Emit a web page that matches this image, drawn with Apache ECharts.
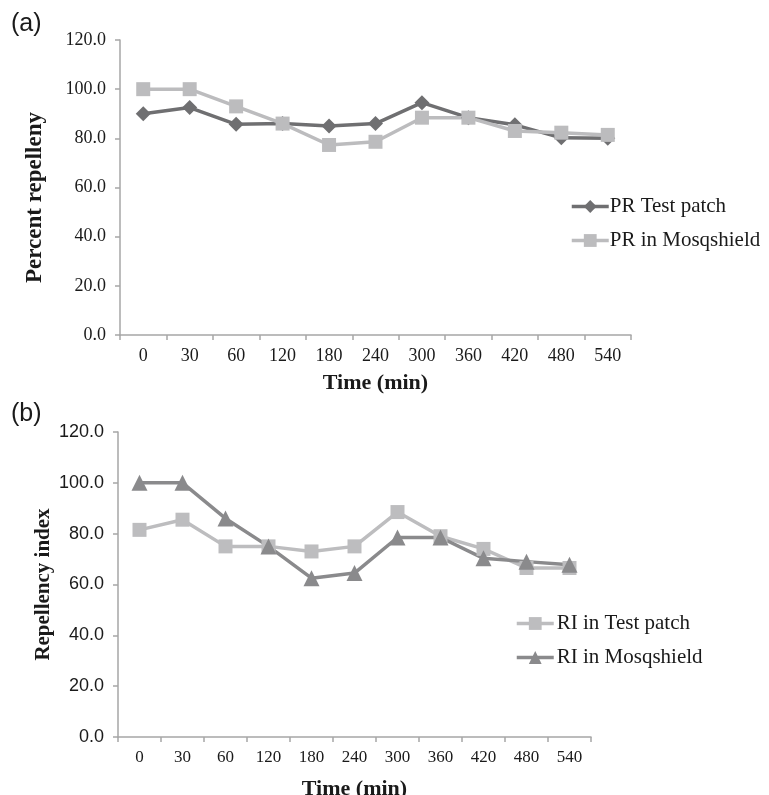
<!DOCTYPE html>
<html>
<head>
<meta charset="utf-8">
<script src="https://cdn.jsdelivr.net/npm/echarts@6/dist/echarts.min.js"></script>
<style>
html,body{margin:0;padding:0;background:#fff;}
#chart{width:769px;height:795px;}
</style>
</head>
<body>
<div id="chart"></div>
<script>
const categories = ['0','30','60','120','180','240','300','360','420','480','540'];
const prTestPatch = [90, 92.5, 85.7, 86, 85, 86, 94.5, 88.4, 85.5, 80.2, 80];
const prMosqshield = [100, 100, 93, 86, 77.3, 78.6, 88.4, 88.4, 83, 82.3, 81.4];
const riTestPatch = [81.5, 85.5, 75, 75, 73, 75, 88.5, 79, 74, 66.5, 66.5];
const riMosqshield = [100, 100, 86, 75, 62.5, 64.5, 78.5, 78.5, 70.3, 69, 67.8];

const serif = 'Liberation Serif, Times New Roman, serif';
const sans = 'Liberation Sans, Arial, sans-serif';
const axisGray = '#a6a6a6';
const txt = '#1a1a1a';

const chart = echarts.init(document.getElementById('chart'));

function xAxis(gridIndex, labelSize, nameGap) {
  return {
    type: 'category', gridIndex: gridIndex, data: categories, boundaryGap: true,
    name: 'Time (min)', nameLocation: 'middle', nameGap: nameGap, nameMoveOverlap: false,
    nameTextStyle: { fontFamily: serif, fontWeight: 'bold', fontSize: 22, color: txt },
    axisLine: { lineStyle: { color: axisGray, width: 1.5 } },
    axisTick: { show: true, length: 5, lineStyle: { color: axisGray, width: 1.5 } },
    axisLabel: { fontFamily: serif, fontSize: labelSize, color: txt, margin: 12, interval: 0 },
    splitLine: { show: false }
  };
}
function yAxis(gridIndex, name, family, labelSize, nameGap, nameSize, namePad) {
  return {
    type: 'value', gridIndex: gridIndex, min: 0, max: 120, interval: 20,
    name: name, nameLocation: 'middle', nameGap: nameGap, nameRotate: 90, nameMoveOverlap: false,
    nameTextStyle: { fontFamily: serif, fontWeight: 'bold', fontSize: nameSize, color: txt, padding: namePad },
    axisLine: { show: true, lineStyle: { color: axisGray, width: 1.5 } },
    axisTick: { show: true, length: 5, lineStyle: { color: axisGray, width: 1.5 } },
    axisLabel: { fontFamily: family, fontSize: labelSize, color: txt, margin: 14,
      formatter: v => v.toFixed(1) },
    splitLine: { show: false }
  };
}
function lineSeries(name, data, xi, color, symbol, size) {
  return {
    type: 'line', name: name, data: data, xAxisIndex: xi, yAxisIndex: xi,
    symbol: symbol, symbolSize: size, showAllSymbol: true,
    lineStyle: { color: color, width: 3.5 },
    itemStyle: { color: color },
    animation: false, z: 2
  };
}

chart.setOption({
  backgroundColor: '#fff',
  animation: false,
  grid: [
    { left: 120, width: 511, top: 40, height: 295, outerBoundsMode: 'none', containLabel: false },
    { left: 118, width: 473, top: 432, height: 305, outerBoundsMode: 'none', containLabel: false }
  ],
  xAxis: [ xAxis(0, 18, 37), xAxis(1, 17, 41) ],
  yAxis: [
    yAxis(0, 'Percent repelleny', serif, 18, 73, 23, [0, 20, 0, 0]),
    yAxis(1, 'Repellency index', sans, 18, 64, 21, 0)
  ],
  legend: [
    { data: ['PR Test patch', 'PR in Mosqshield'], orient: 'vertical', left: 570, top: 196, padding: 0,
      itemWidth: 37, itemHeight: 16, itemGap: 13, lineStyle: { width: 3.5 },
      textStyle: { fontFamily: serif, fontSize: 21, color: txt, padding: [0,0,0,-4] } },
    { data: ['RI in Test patch', 'RI in Mosqshield'], orient: 'vertical', left: 515, top: 613, padding: 0,
      itemWidth: 37, itemHeight: 16, itemGap: 13, lineStyle: { width: 3.5 },
      textStyle: { fontFamily: serif, fontSize: 21, color: txt, padding: [0,0,0,-2] } }
  ],
  series: [
    lineSeries('PR Test patch', prTestPatch, 0, '#6f6f71', 'diamond', 15),
    lineSeries('PR in Mosqshield', prMosqshield, 0, '#bcbcbe', 'rect', 14),
    lineSeries('RI in Test patch', riTestPatch, 1, '#bdbdbf', 'rect', 14),
    lineSeries('RI in Mosqshield', riMosqshield, 1, '#8a8a8c', 'triangle', 16)
  ],
  graphic: [
    { type: 'text', left: 11, top: 12, style: { text: '(a)', fontFamily: sans, fontSize: 25, fill: txt } },
    { type: 'text', left: 11, top: 402, style: { text: '(b)', fontFamily: sans, fontSize: 25, fill: txt } }
  ]
});
</script>
</body>
</html>
